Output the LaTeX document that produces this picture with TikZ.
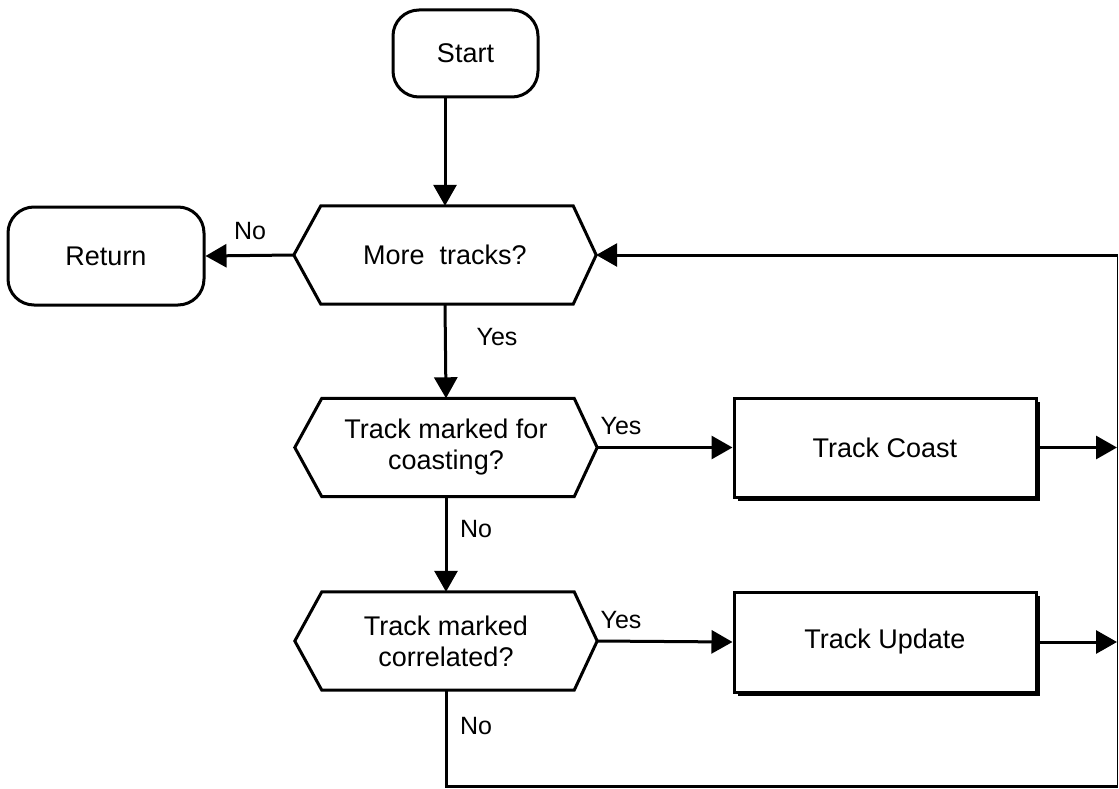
\documentclass[tikz,border=0pt]{standalone}
\usepackage{fontspec}
\setmainfont{Liberation Sans}
\usetikzlibrary{arrows.meta,shadows,calc}
\begin{document}
\begin{tikzpicture}[x=1pt,y=-1pt,
  every node/.style={font=\fontsize{27}{31}\selectfont},
  line/.style={line width=3pt},
  arr/.style={line width=3pt, -{Triangle[length=21pt,width=23pt]}},
  term/.style={draw, line width=3pt, rounded corners=26pt, inner sep=0pt, align=center},
  hexa/.style={inner sep=0pt, align=center, minimum width=302pt, minimum height=98pt},
  proc/.style={draw, fill=white, line width=3pt, inner sep=0pt, align=center,
    minimum width=302pt, minimum height=99pt,
    general shadow={fill=black, shadow xshift=4pt, shadow yshift=-4pt}},
  lbl/.style={font=\fontsize{25}{29}\selectfont, inner sep=0pt}
]
\useasboundingbox (0,0) rectangle (1119,789);
\fill[white] (0,0) rectangle (1119,789);

\node[term, minimum width=145pt, minimum height=87pt] (start) at (465.5,53.5) {Start};
\node[term, minimum width=196pt, minimum height=98pt] (ret) at (106,256) {Return};

\node[hexa] (q1) at (445,255) {More\ \ tracks?};
\node[hexa] (q2) at (446,447.5) {Track marked for\\coasting?};
\node[hexa] (q3) at (446,641) {Track marked\\correlated?};

\foreach \n in {q1,q2,q3}{
  \draw[line, line join=miter] (\n.west) -- ([xshift=27pt]\n.north west) -- ([xshift=-23pt]\n.north east)
    -- (\n.east) -- ([xshift=-23pt]\n.south east) -- ([xshift=27pt]\n.south west) -- cycle;
}

\node[proc] (coast) at (885,447.5) {Track Coast};
\node[proc, minimum height=100pt] (update) at (885,642) {Track Update};

\coordinate (c1) at (1117,447.5);
\coordinate (c2) at (1117,642);
\coordinate (b1) at (446,786);
\coordinate (b2) at (1117.5,786);
\coordinate (b3) at (1117.5,255);

\draw[arr] (start.south -| q1.north) -- (q1.north);
\draw[arr] (q1.west) -- (ret.east);
\draw[arr] (q1.south) -- (q2.north);
\draw[arr] (q2.east) -- (coast.west);
\draw[arr] (coast.east) -- (c1);
\draw[arr] (q2.south) -- (q3.north);
\draw[arr] (q3.east) -- (update.west);
\draw[arr] (update.east) -- (c2);
\draw[line] (q3.south) -- (b1) -- (b2);
\draw[line width=1pt] (b2) -- (b3);
\draw[arr] (b3) -- (q1.east);

\node[lbl] (l1) at (250,231) {No};
\node[lbl] (l2) at (497,337) {Yes};
\node[lbl] (l3) at (621,426) {Yes};
\node[lbl] (l4) at (476,529) {No};
\node[lbl] (l5) at (621,620) {Yes};
\node[lbl] (l6) at (476,726) {No};
\end{tikzpicture}
\end{document}
